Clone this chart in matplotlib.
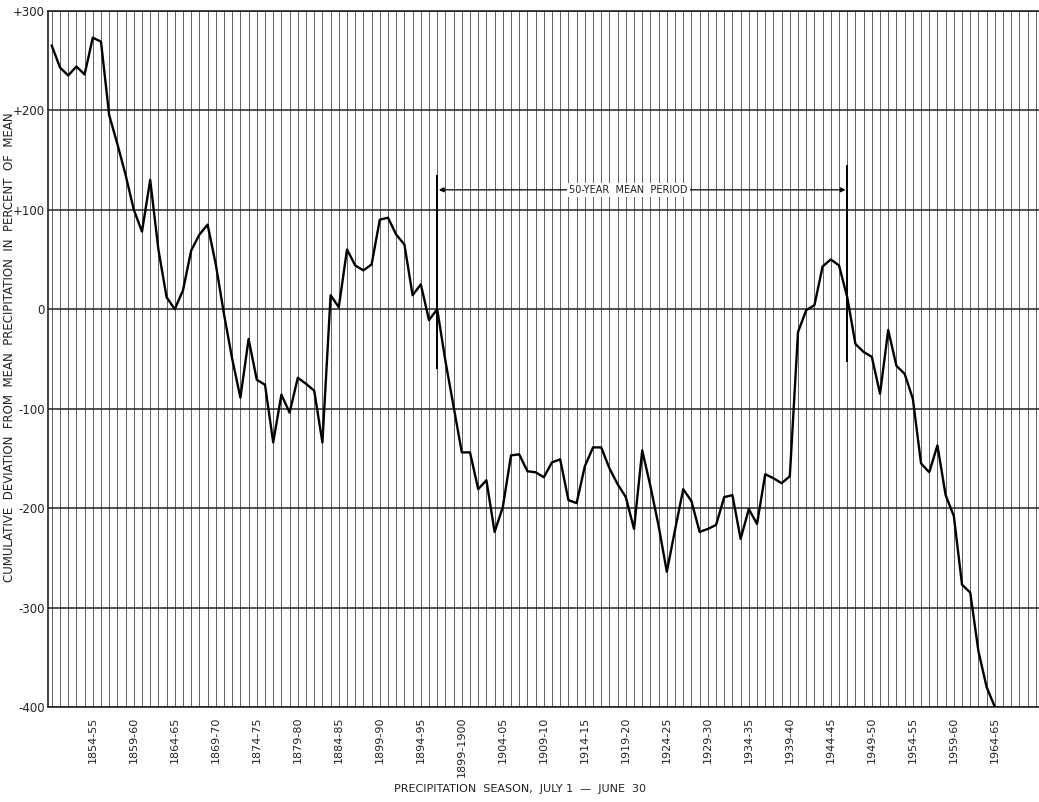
import numpy as np
import matplotlib
matplotlib.use('Agg')
import matplotlib.pyplot as plt

# --- DATA ---
first_season = 1849  # 1849-50
deviation = [
    265, 243, 235, 244, 236, 273, 269, 195, 166, 135,
    100, 78, 130, 60, 12, 0, 19, 59, 75, 85,
    45, -5, -50, -89, -30, -71, -76, -134, -86, -104,
    -69, -75, -82, -134, 14, 2, 60, 44, 39, 45,
    90, 92, 75, 65, 14, 25, -11, 0, -52, -98,
    -144, -144, -181, -172, -224, -199, -147, -146, -163, -164,
    -169, -154, -151, -192, -195, -158, -139, -139, -160, -176,
    -189, -221, -142, -178, -218, -264, -222, -181, -193, -224,
    -221, -217, -189, -187, -231, -201, -216, -166, -170, -175,
    -168, -23, -1, 4, 43, 50, 44, 12, -35, -43,
    -48, -85, -21, -57, -65, -90, -155, -164, -137, -187,
    -208, -277, -285, -344, -380, -400,
]
tick_years = list(range(1854, 1965, 5))
tick_labels = ['1854-55', '1859-60', '1864-65', '1869-70', '1874-75', '1879-80',
               '1884-85', '1899-90', '1894-95', '1899-1900', '1904-05', '1909-10',
               '1914-15', '1919-20', '1924-25', '1929-30', '1934-35', '1939-40',
               '1944-45', '1949-50', '1954-55', '1959-60', '1964-65']
y_ticks = [300, 200, 100, 0, -100, -200, -300, -400]
y_labels = ['+300', '+200', '+100', '0', '-100', '-200', '-300', '-400']

# 50-year mean period markers (season start year, lower, upper)
period_start = (1896, -59, 134)
period_end = (1946, -52, 144)
period_arrow_y = 120

years = first_season + np.arange(len(deviation))

plt.rcParams['font.family'] = ['DejaVu Sans']

fig = plt.figure(figsize=(10.39, 8.02), dpi=100)
ax = fig.add_axes([0.0459, 0.1185, 0.955, 0.868])

ax.set_xlim(first_season - 0.5, first_season + 120.5)
ax.set_ylim(-400, 300)

# millimetre-paper style grid: a line every season, heavier every 100 %
for yr in range(first_season, first_season + 121):
    ax.axvline(yr, color='#555555', lw=0.65, zorder=1)
for yv in y_ticks:
    ax.axhline(yv, color='#222222', lw=1.1, zorder=1)

ax.plot(years, deviation, color='black', lw=1.7, zorder=3)

# 50-year mean period
for yr, lo, hi in (period_start, period_end):
    ax.plot([yr, yr], [lo, hi], color='black', lw=1.4, zorder=3)
ax.annotate('', xy=(period_start[0] + 0.2, period_arrow_y),
            xytext=(period_end[0] - 0.2, period_arrow_y),
            arrowprops=dict(arrowstyle='<|-|>', color='black', lw=0.9,
                            mutation_scale=7, shrinkA=0, shrinkB=0), zorder=3)
ax.text(1919.3, period_arrow_y, '50-YEAR  MEAN  PERIOD', fontsize=7, ha='center',
        va='center', color='#222222', zorder=4,
        bbox=dict(facecolor='white', edgecolor='none', pad=1.5))

ax.set_xticks(tick_years)
ax.set_xticklabels(tick_labels, rotation=90, fontsize=8, color='#222222')
ax.set_yticks(y_ticks)
ax.set_yticklabels(y_labels, fontsize=8.5, color='#222222')
ax.tick_params(axis='both', length=0)
ax.tick_params(axis='x', pad=7)
ax.tick_params(axis='y', pad=2)

for side in ['left', 'bottom', 'top']:
    ax.spines[side].set_color('#222222')
    ax.spines[side].set_linewidth(1.2)
ax.spines['right'].set_visible(False)

fig.text(0.5, 0.016, 'PRECIPITATION  SEASON,  JULY 1  \u2014  JUNE  30', ha='center',
         va='center', fontsize=8, color='#222222')
fig.text(0.009, 0.567, 'CUMULATIVE  DEVIATION  FROM  MEAN  PRECIPITATION  IN  PERCENT  OF  MEAN',
         rotation=90, ha='center', va='center', fontsize=8.5, color='#222222')

fig.savefig('out.png', dpi=100)
